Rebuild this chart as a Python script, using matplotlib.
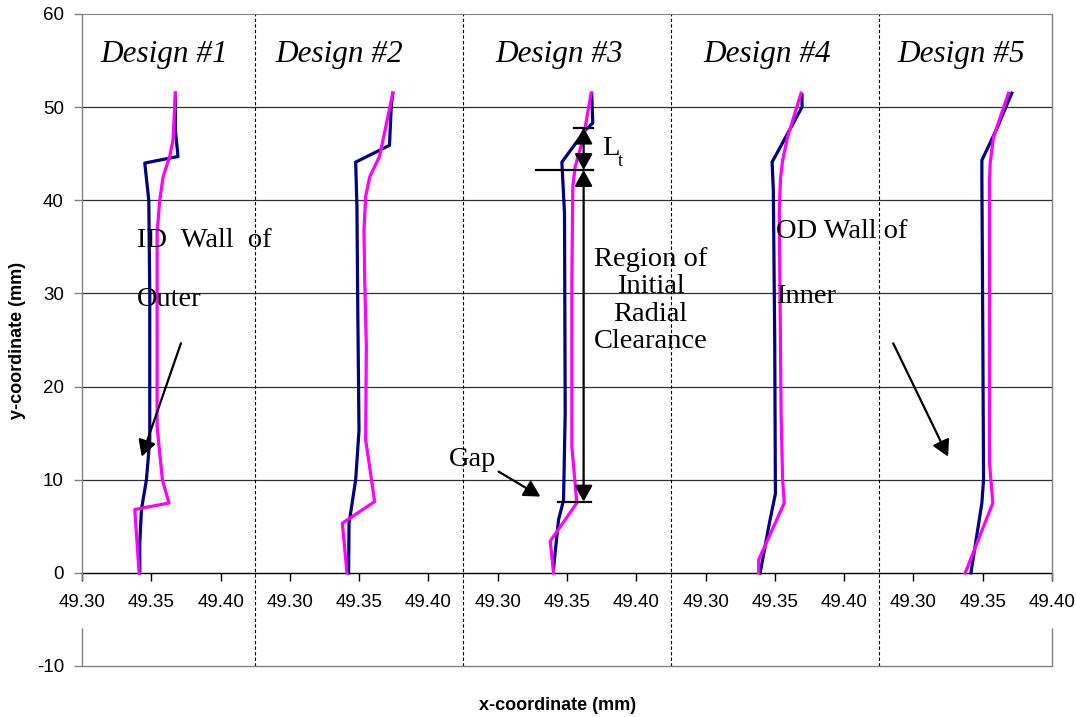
import matplotlib
matplotlib.use('Agg')
import matplotlib.pyplot as plt
from matplotlib.patches import FancyArrowPatch
from matplotlib.ticker import FixedLocator, FixedFormatter

plt.rcParams['axes.unicode_minus'] = False

# ---------------- data ----------------
design_titles = ['Design #1', 'Design #2', 'Design #3', 'Design #4', 'Design #5']
x_tick_labels = ['49.30', '49.35', '49.40']
y_ticks = [-10, 0, 10, 20, 30, 40, 50, 60]

# navy series (ID wall of outer)
d1_navy_x = [49.3674, 49.3674, 49.3693, 49.3453, 49.3482, 49.3489, 49.3489, 49.3465, 49.3429, 49.3417, 49.3417]
d1_navy_y = [51.5, 47.5, 44.7, 44.0, 40.0, 30.0, 14.3, 10.0, 6.8, 3.2, 0.0]
d2_navy_x = [49.3743, 49.3732, 49.3719, 49.3475, 49.3484, 49.3491, 49.3499, 49.3475, 49.3427, 49.3424]
d2_navy_y = [51.5, 50.2, 45.9, 44.1, 39.3, 27.0, 15.3, 10.0, 5.3, 0.0]
d3_navy_x = [49.3678, 49.3686, 49.3631, 49.3463, 49.3482, 49.3487, 49.3475, 49.3439, 49.3403]
d3_navy_y = [51.5, 48.3, 47.5, 44.1, 38.6, 17.2, 7.8, 5.7, 0.5]
d4_navy_x = [49.3696, 49.3696, 49.3480, 49.3489, 49.3499, 49.3504, 49.3460, 49.3394]
d4_navy_y = [51.3, 50.0, 44.1, 41.1, 25.0, 8.5, 5.3, 0.0]
d5_navy_x = [49.3710, 49.3602, 49.3494, 49.3494, 49.3501, 49.3506, 49.3494, 49.3415]
d5_navy_y = [51.5, 47.7, 44.3, 42.4, 25.0, 10.0, 7.5, 0.0]

# magenta series (OD wall of inner)
d1_mag_x = [49.3674, 49.3657, 49.3633, 49.3585, 49.3561, 49.3542, 49.3542, 49.3580, 49.3628, 49.3381, 49.3412]
d1_mag_y = [51.5, 46.5, 44.7, 42.5, 40.0, 36.5, 15.7, 10.0, 7.5, 6.8, 0.0]
d2_mag_x = [49.3743, 49.3647, 49.3576, 49.3547, 49.3535, 49.3540, 49.3552, 49.3547, 49.3612, 49.3379, 49.3412]
d2_mag_y = [51.5, 44.7, 42.5, 40.4, 36.8, 31.5, 24.3, 14.3, 7.65, 5.33, 0.0]
d3_mag_x = [49.3674, 49.3619, 49.3559, 49.3542, 49.3535, 49.3535, 49.3571, 49.3379, 49.3403]
d3_mag_y = [51.5, 46.8, 43.6, 41.5, 31.4, 13.6, 7.5, 3.4, 0.0]
d4_mag_x = [49.3689, 49.3592, 49.3556, 49.3540, 49.3532, 49.3545, 49.3556, 49.3568, 49.3383, 49.3383]
d4_mag_y = [51.5, 46.8, 44.3, 42.2, 38.6, 17.1, 10.0, 7.5, 1.4, 0.0]
d5_mag_x = [49.3686, 49.3578, 49.3554, 49.3549, 49.3549, 49.3573, 49.3374]
d5_mag_y = [51.5, 46.8, 44.0, 42.2, 11.8, 7.5, 0.0]

navy_x = [d1_navy_x, d2_navy_x, d3_navy_x, d4_navy_x, d5_navy_x]
navy_y = [d1_navy_y, d2_navy_y, d3_navy_y, d4_navy_y, d5_navy_y]
mag_x = [d1_mag_x, d2_mag_x, d3_mag_x, d4_mag_x, d5_mag_x]
mag_y = [d1_mag_y, d2_mag_y, d3_mag_y, d4_mag_y, d5_mag_y]

# ---------------- layout ----------------
X0 = 49.30
PANEL = 0.15
NPANEL = 5

def gx(i, x):
    return x + PANEL * i

SERIF = 'Liberation Serif'
SANS = 'Liberation Sans'

fig = plt.figure(figsize=(10.76, 7.17), dpi=100)
ax = fig.add_axes([82 / 1076, 1 - 666 / 717, (1052 - 82) / 1076, (666 - 14) / 717])
ax.set_xlim(X0, X0 + PANEL * NPANEL - 0.05)
ax.set_ylim(-10, 60)

# spines
for s in ['left', 'right']:
    ax.spines[s].set_visible(False)
ax.spines['top'].set_color('#808080')
ax.spines['bottom'].set_position(('data', 0))
ax.spines['bottom'].set_color('black')
ax.spines['bottom'].set_linewidth(1.0)
xmin, xmax = ax.get_xlim()
for xx in [xmin, xmax]:
    ax.plot([xx, xx], [60, -0.75], color='#808080', lw=1.0, clip_on=False, zorder=3, solid_capstyle='butt')
    ax.plot([xx, xx], [-5.9, -10], color='#808080', lw=1.0, clip_on=False, zorder=3, solid_capstyle='butt')
ax.plot([xmin, xmax], [-10, -10], color='#808080', lw=1.0, clip_on=False, zorder=3)

# gridlines
for yy in [10, 20, 30, 40, 50]:
    ax.plot([xmin, xmax], [yy, yy], color='#303030', lw=0.9, zorder=1)

# dashed separators
for i in range(NPANEL - 1):
    xs = gx(i, 49.425)
    ax.plot([xs, xs], [-10, 60], color='black', lw=0.8, ls=(0, (3, 2)), zorder=1)

# ticks
xticks = [X0 + 0.05 * k for k in range(3 * NPANEL)]
xlabels = [x_tick_labels[k % 3] for k in range(3 * NPANEL)]
ax.xaxis.set_major_locator(FixedLocator(xticks))
ax.xaxis.set_major_formatter(FixedFormatter(xlabels))
ax.tick_params(axis='x', direction='out', length=6, width=1, color='black', pad=9, labelsize=13.5)
ax.set_yticks(y_ticks)
ax.tick_params(axis='y', direction='out', length=6, width=1, color='#808080', pad=7, labelsize=13.5)
for lab in ax.get_xticklabels() + ax.get_yticklabels():
    lab.set_fontfamily(SANS)

ax.set_xlabel('x-coordinate (mm)', fontsize=13, fontweight='bold', family=SANS, labelpad=0)
ax.xaxis.set_label_coords(0.49, -0.048)
ax.set_ylabel('y-coordinate (mm)', fontsize=13, fontweight='bold', family=SANS)
ax.yaxis.set_label_coords(-0.058, 0.5)

# curves
for i in range(NPANEL):
    ax.plot([gx(i, v) for v in navy_x[i]], navy_y[i], color='#000080', lw=2.3, zorder=4)
    ax.plot([gx(i, v) for v in mag_x[i]], mag_y[i], color='#FF00FF', lw=2.3, zorder=5)

# titles
title_x = [49.3592, 49.3354, 49.3440, 49.3447, 49.3346]
for i in range(NPANEL):
    ax.text(gx(i, title_x[i]), 55.6, design_titles[i], family=SERIF, style='italic',
            fontsize=22.5, ha='center', va='center', zorder=6)

# annotations text
ax.text(gx(0, 49.3397), 35.7, 'ID  Wall  of', family=SERIF, fontsize=20.5, ha='left', va='center', zorder=6)
ax.text(gx(0, 49.3397), 29.3, 'Outer', family=SERIF, fontsize=20.5, ha='left', va='center', zorder=6)
ax.text(gx(3, 49.3505), 36.6, 'OD Wall of', family=SERIF, fontsize=20.5, ha='left', va='center', zorder=6)
ax.text(gx(3, 49.3505), 29.7, 'Inner', family=SERIF, fontsize=20.5, ha='left', va='center', zorder=6)
ax.text(gx(2, 49.4104), 29.25, 'Region of\nInitial\nRadial\nClearance', family=SERIF, fontsize=20.5,
        ha='center', va='center', multialignment='center', linespacing=1.12, zorder=6)
ax.text(gx(2, 49.2646), 12.2, 'Gap', family=SERIF, fontsize=20.5, ha='left', va='center', zorder=6)
ax.text(gx(2, 49.3750), 45.6, 'L', family=SERIF, fontsize=20.5, ha='left', va='center', zorder=6)
ax.text(gx(2, 49.3868), 44.2, 't', family=SERIF, fontsize=13, ha='left', va='center', zorder=6)

# arrows
def arrow(p, q, style='-|>'):
    a = FancyArrowPatch(p, q, arrowstyle=style + ',head_length=0.65,head_width=0.36',
                        mutation_scale=15, color='black', lw=1.6, shrinkA=0, shrinkB=0, zorder=7)
    ax.add_patch(a)

arrow((gx(0, 49.3714), 24.65), (gx(0, 49.3431), 12.48))
arrow((gx(4, 49.2854), 24.65), (gx(4, 49.3250), 12.48))
arrow((gx(2, 49.3007), 10.87), (gx(2, 49.3308), 8.19))
arrow((gx(2, 49.3620), 47.8), (gx(2, 49.3620), 43.25), style='<|-|>')
arrow((gx(2, 49.3620), 43.25), (gx(2, 49.3620), 7.65), style='<|-|>')

# dimension bars
ax.plot([gx(2, 49.3547), gx(2, 49.3691)], [47.8, 47.8], color='black', lw=1.6, zorder=7)
ax.plot([gx(2, 49.3273), gx(2, 49.3691)], [43.25, 43.25], color='black', lw=1.6, zorder=7)
ax.plot([gx(2, 49.3432), gx(2, 49.3674)], [7.65, 7.65], color='black', lw=1.6, zorder=7)

fig.savefig('out.png', dpi=100)
